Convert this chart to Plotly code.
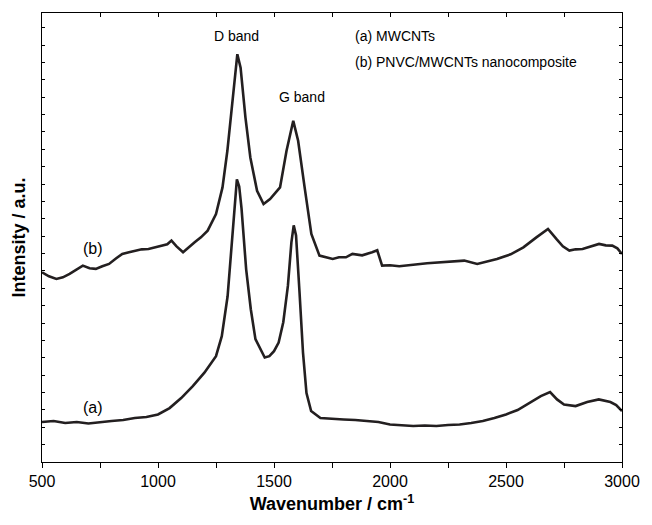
import plotly.graph_objects as go

# Raman spectra (intensity in arbitrary units)
wn_a = [500, 550, 600, 650, 700, 750, 800, 850, 900, 950, 1000, 1050, 1100, 1150, 1200,
        1250, 1275, 1300, 1320, 1340, 1350, 1360, 1380, 1400, 1420, 1440, 1460, 1480,
        1500, 1520, 1540, 1560, 1575, 1585, 1595, 1610, 1625, 1640, 1660, 1700, 1750,
        1800, 1850, 1900, 1950, 2000, 2050, 2100, 2150, 2200, 2250, 2300, 2350, 2400,
        2450, 2500, 2550, 2600, 2650, 2690, 2720, 2750, 2800, 2850, 2900, 2950, 2975, 3000]
int_a = [40, 41, 39, 40, 38.5, 40, 41, 42, 44, 45, 47.6, 54, 64, 76, 89.5,
         106, 126, 166, 227, 283, 276, 254, 193, 153, 123, 113, 104.6, 106,
         111, 119.6, 140, 176.6, 220, 237, 227, 170, 109.6, 69, 51, 44, 43,
         42.6, 42, 41, 40, 37.5, 37, 36, 36.5, 36, 37, 37.5, 39, 41,
         44, 47.6, 52, 59, 66, 70, 62.7, 57.6, 56, 60, 62.7, 60, 57, 51]

wn_b = [500, 530, 562, 590, 619, 650, 676, 705, 732, 760, 789, 820, 846, 875, 903, 930,
        959, 990, 1016, 1040, 1058, 1080, 1108, 1130, 1158, 1185, 1214, 1250, 1278, 1299,
        1321, 1342, 1356, 1377, 1398, 1427, 1455, 1483, 1526, 1554, 1583, 1604, 1632,
        1661, 1696, 1724, 1753, 1780, 1810, 1838, 1880, 1923, 1945, 1966, 2000, 2040,
        2079, 2120, 2160, 2221, 2270, 2320, 2376, 2420, 2461, 2520, 2575, 2631, 2681,
        2717, 2745, 2773, 2800, 2830, 2865, 2901, 2930, 2958, 2980, 3000]
int_b = [190, 186, 183.4, 185, 188.4, 193, 196.7, 194, 193.4, 196, 198.4, 204, 208.4, 210,
         211.7, 213, 213.4, 215, 216.7, 218, 221.7, 216, 210, 214, 220, 225, 231.7, 248.4,
         275, 311.7, 361.7, 408.4, 395, 345, 305, 271.7, 258.4, 263.4, 275, 311.7, 341.7,
         321.7, 275, 228.4, 206.7, 205, 203.4, 205, 205, 208.4, 207, 210, 212, 196.7,
         197, 196, 196.7, 198, 199, 200, 201, 201.7, 198.4, 201, 203.4, 208, 215, 225,
         233.4, 223.4, 216, 211.7, 213, 213.4, 216, 218.4, 217, 216.7, 214, 208.4]

x_ticks = [500, 1000, 1500, 2000, 2500, 3000]

line_col = "#231f20"
fig = go.Figure()
fig.add_trace(go.Scatter(x=wn_a, y=int_a, mode="lines",
                         line=dict(color=line_col, width=2.6), showlegend=False))
fig.add_trace(go.Scatter(x=wn_b, y=int_b, mode="lines",
                         line=dict(color=line_col, width=2.6), showlegend=False))
# invisible trace on the top axis so it is drawn
fig.add_trace(go.Scatter(x=[500, 3000], y=[0, 0], xaxis="x2", mode="lines",
                         line=dict(width=0), showlegend=False, hoverinfo="skip"))

font_fam = "Liberation Sans, Arial, sans-serif"
fig.update_layout(
    width=652, height=525,
    margin=dict(l=42, r=22, t=12, b=63),
    plot_bgcolor="white", paper_bgcolor="white",
    font=dict(family=font_fam, color="black"),
    xaxis=dict(range=[500, 3000], tickvals=x_ticks, ticks="outside", ticklen=5,
               tickwidth=1, tickcolor="black", showline=True, linecolor="black",
               linewidth=1, mirror=True, showgrid=False, zeroline=False,
               tickfont=dict(size=16, family=font_fam),
               minor=dict(dtick=250, ticks="outside", ticklen=5, tickcolor="black"),
               title=dict(text="<b>Wavenumber / cm<sup>-1</sup></b>",
                          font=dict(size=18, family=font_fam), standoff=8)),
    xaxis2=dict(range=[500, 3000], overlaying="x", side="top", dtick=250,
                ticks="inside", ticklen=4, tickcolor="black", showticklabels=False,
                showgrid=False, zeroline=False, showline=False),
    yaxis=dict(range=[0, 449.7], dtick=17.4, tick0=0, ticks="inside", ticklen=3,
               tickcolor="black", showticklabels=False, showline=True,
               linecolor="black", linewidth=1, mirror="ticks", showgrid=False,
               zeroline=False,
               title=dict(text="<b>Intensity / a.u.</b>",
                          font=dict(size=18, family=font_fam), standoff=10)),
)

ann_font = dict(size=14, family=font_fam, color="black")
fig.add_annotation(x=1340, y=427, text="D band", showarrow=False, font=ann_font)
fig.add_annotation(x=1620, y=366, text="G band", showarrow=False, font=ann_font)
fig.add_annotation(x=1840, y=427, text="(a) MWCNTs", showarrow=False,
                   xanchor="left", font=ann_font)
fig.add_annotation(x=1840, y=401, text="(b) PNVC/MWCNTs nanocomposite",
                   showarrow=False, xanchor="left", font=ann_font)
lab_font = dict(size=16, family=font_fam, color="black")
fig.add_annotation(x=720, y=214, text="(b)", showarrow=False, font=lab_font)
fig.add_annotation(x=720, y=55, text="(a)", showarrow=False, font=lab_font)

fig.write_html("out.html")
